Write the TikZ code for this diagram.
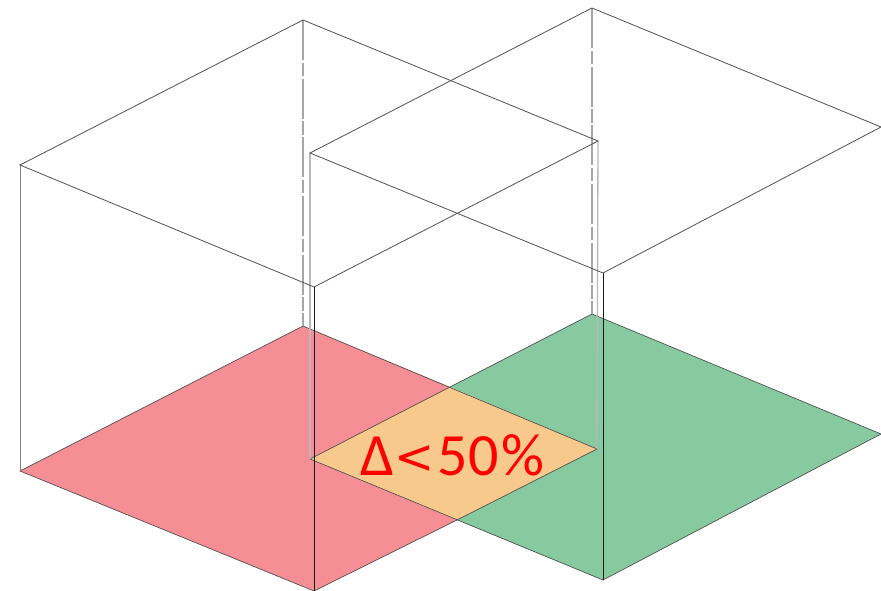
\documentclass[tikz,border=0pt]{standalone}
\usepackage{fontspec}
\setmainfont{Carlito}
\newfontfamily\lessfont{DejaVu Sans}
\definecolor{redfloor}{HTML}{F58E95}
\definecolor{greenfloor}{HTML}{88CAA0}
\definecolor{overlap}{HTML}{F8C98C}
\definecolor{edgegray}{HTML}{505050}
\tikzset{
  topedge/.style={draw=edgegray,line width=0.6pt},
  flooredge/.style={draw=black!70,line width=0.5pt},
  frontedge/.style={draw=black!90,line width=0.65pt},
  sideedge/.style={draw=black!50,line width=0.7pt},
  paleedge/.style={draw=black!28,line width=1pt},
  hiddenedge/.style={draw=black!35,line width=0.9pt,dash pattern=on 30pt off 2pt on 10pt off 2pt},
  overlaplabel/.style={text=red,font=\fontsize{45}{45}\selectfont,inner sep=0pt}
}
\begin{document}
\begin{tikzpicture}[x=0.75pt,y=-0.75pt]
\useasboundingbox (0,0) rectangle (881,591);
% red box
\coordinate (rfl) at (20,471); \coordinate (rfb) at (303,326); \coordinate (rfr) at (597,449); \coordinate (rff) at (314,591);
\coordinate (rtl) at (20,165); \coordinate (rtb) at (303,20); \coordinate (rtr) at (598,141); \coordinate (rtf) at (314,287);
% green box
\coordinate (gfl) at (310,459); \coordinate (gfb) at (592,314); \coordinate (gfr) at (881,434); \coordinate (gff) at (603,580);
\coordinate (gtl) at (310,153); \coordinate (gtb) at (592,8); \coordinate (gtr) at (881,127); \coordinate (gtf) at (603,273);
% overlap corners
\coordinate (ob) at (450,387); \coordinate (of) at (457,520);
% floors
\fill[redfloor] (rfl) -- (rfb) -- (ob) -- (gfl) -- (of) -- (rff) -- cycle;
\fill[greenfloor] (ob) -- (gfb) -- (gfr) -- (gff) -- (of) -- (rfr) -- cycle;
\fill[overlap] (ob) -- (rfr) -- (of) -- (gfl) -- cycle;
\draw[flooredge] (rfl) -- (rfb) -- (rfr) -- (of) -- (rff) -- cycle;
\draw[flooredge] (gfl) -- (ob) -- (gfb) -- (gfr) -- (gff) -- cycle;
% hidden verticals
\draw[hiddenedge] (rtb) -- (rfb);
\draw[hiddenedge] (gtb) -- (gfb);
\draw[paleedge] (gtl) -- (gfl);
\draw[paleedge] (rtr) -- (rfr);
% visible verticals
\draw[sideedge] (rtl) -- (rfl);
\draw[frontedge] (rtf) -- (rff);
\draw[frontedge] (gtf) -- (gff);
% tops
\draw[topedge] (rtl) -- (rtb) -- (rtr) -- (rtf) -- cycle;
\draw[topedge] (gtl) -- (gtb) -- (gtr) -- (gtf) -- cycle;
\node[overlaplabel,anchor=center] (lbl) at (452.5,455) {Δ\raisebox{1.5pt}{\lessfont\fontsize{36}{36}\selectfont <}\hspace{2.5pt}50\hspace{2.5pt}\%};
\end{tikzpicture}
\end{document}
